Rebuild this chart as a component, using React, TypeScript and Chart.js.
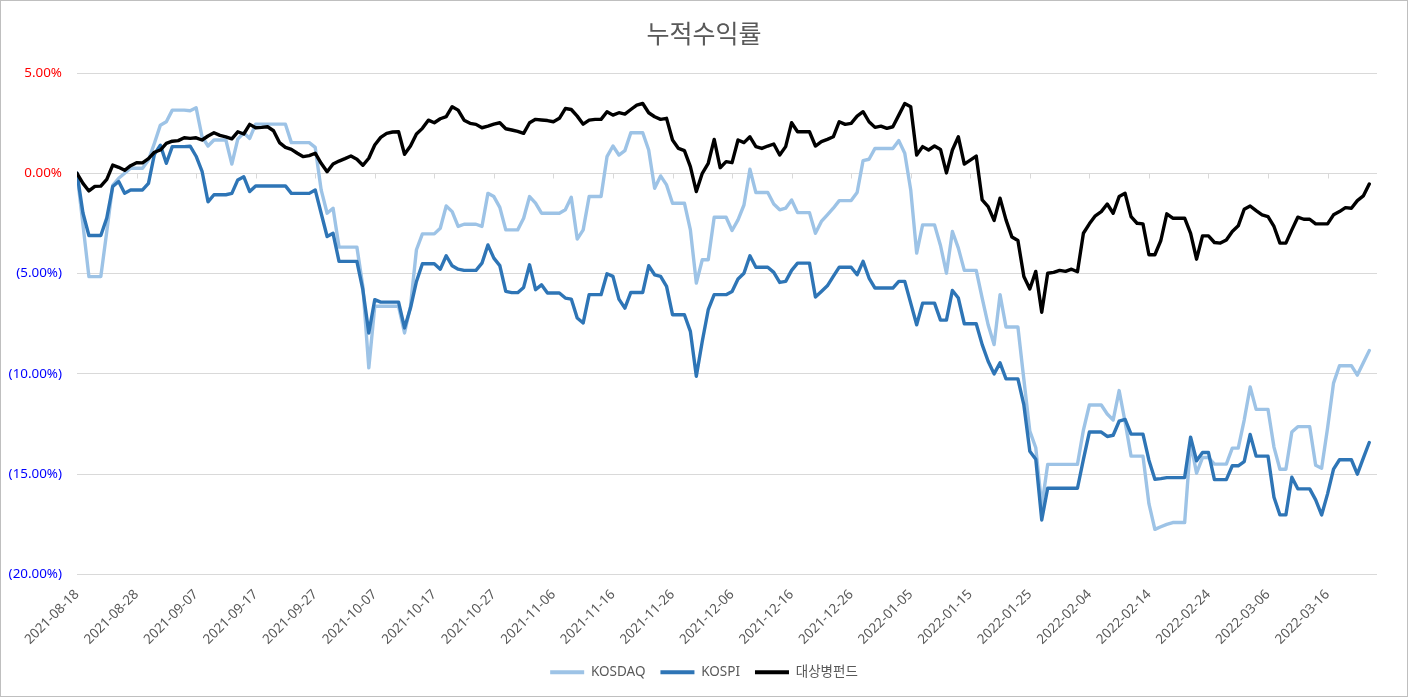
import React, { useEffect, useRef } from 'react';
import { Chart, registerables } from 'chart.js';

Chart.register(...registerables);

const DATES = [
  '2021-08-18','2021-08-19','2021-08-20','2021-08-21','2021-08-22','2021-08-23','2021-08-24','2021-08-25','2021-08-26','2021-08-27',
  '2021-08-28','2021-08-29','2021-08-30','2021-08-31',
  '2021-09-01','2021-09-02','2021-09-03','2021-09-04','2021-09-05','2021-09-06','2021-09-07','2021-09-08','2021-09-09','2021-09-10',
  '2021-09-11','2021-09-12','2021-09-13','2021-09-14','2021-09-15','2021-09-16','2021-09-17','2021-09-18','2021-09-19','2021-09-20',
  '2021-09-21','2021-09-22','2021-09-23','2021-09-24','2021-09-25','2021-09-26','2021-09-27','2021-09-28','2021-09-29','2021-09-30',
  '2021-10-01','2021-10-02','2021-10-03','2021-10-04','2021-10-05','2021-10-06','2021-10-07','2021-10-08','2021-10-09','2021-10-10',
  '2021-10-11','2021-10-12','2021-10-13','2021-10-14','2021-10-15','2021-10-16','2021-10-17','2021-10-18','2021-10-19','2021-10-20',
  '2021-10-21','2021-10-22','2021-10-23','2021-10-24','2021-10-25','2021-10-26','2021-10-27','2021-10-28','2021-10-29','2021-10-30',
  '2021-10-31',
  '2021-11-01','2021-11-02','2021-11-03','2021-11-04','2021-11-05','2021-11-06','2021-11-07','2021-11-08','2021-11-09','2021-11-10',
  '2021-11-11','2021-11-12','2021-11-13','2021-11-14','2021-11-15','2021-11-16','2021-11-17','2021-11-18','2021-11-19','2021-11-20',
  '2021-11-21','2021-11-22','2021-11-23','2021-11-24','2021-11-25','2021-11-26','2021-11-27','2021-11-28','2021-11-29','2021-11-30',
  '2021-12-01','2021-12-02','2021-12-03','2021-12-04','2021-12-05','2021-12-06','2021-12-07','2021-12-08','2021-12-09','2021-12-10',
  '2021-12-11','2021-12-12','2021-12-13','2021-12-14','2021-12-15','2021-12-16','2021-12-17','2021-12-18','2021-12-19','2021-12-20',
  '2021-12-21','2021-12-22','2021-12-23','2021-12-24','2021-12-25','2021-12-26','2021-12-27','2021-12-28','2021-12-29','2021-12-30',
  '2021-12-31',
  '2022-01-01','2022-01-02','2022-01-03','2022-01-04','2022-01-05','2022-01-06','2022-01-07','2022-01-08','2022-01-09','2022-01-10',
  '2022-01-11','2022-01-12','2022-01-13','2022-01-14','2022-01-15','2022-01-16','2022-01-17','2022-01-18','2022-01-19','2022-01-20',
  '2022-01-21','2022-01-22','2022-01-23','2022-01-24','2022-01-25','2022-01-26','2022-01-27','2022-01-28','2022-01-29','2022-01-30',
  '2022-01-31',
  '2022-02-01','2022-02-02','2022-02-03','2022-02-04','2022-02-05','2022-02-06','2022-02-07','2022-02-08','2022-02-09','2022-02-10',
  '2022-02-11','2022-02-12','2022-02-13','2022-02-14','2022-02-15','2022-02-16','2022-02-17','2022-02-18','2022-02-19','2022-02-20',
  '2022-02-21','2022-02-22','2022-02-23','2022-02-24','2022-02-25','2022-02-26','2022-02-27','2022-02-28',
  '2022-03-01','2022-03-02','2022-03-03','2022-03-04','2022-03-05','2022-03-06','2022-03-07','2022-03-08','2022-03-09','2022-03-10',
  '2022-03-11','2022-03-12','2022-03-13','2022-03-14','2022-03-15','2022-03-16','2022-03-17','2022-03-18','2022-03-19','2022-03-20',
  '2022-03-21','2022-03-22','2022-03-23',
];

// cumulative return, %
const KOSDAQ = [
  0, -2.56, -5.15, -5.15, -5.15, -2.9, -0.6, -0.25, 0.0, 0.25,
  0.25, 0.25, 0.66, 1.5, 2.4, 2.57, 3.15, 3.15, 3.15, 3.12,
  3.27, 1.82, 1.36, 1.66, 1.66, 1.66, 0.46, 1.7, 2.02, 1.74,
  2.45, 2.45, 2.45, 2.45, 2.45, 2.45, 1.53, 1.53, 1.53, 1.53,
  1.29, -0.83, -1.99, -1.74, -3.68, -3.68, -3.68, -3.68, -5.64, -9.7,
  -6.63, -6.63, -6.63, -6.63, -6.63, -7.96, -6.63, -3.81, -3.02, -3.02,
  -3.02, -2.74, -1.63, -1.91, -2.65, -2.54, -2.54, -2.54, -2.65, -1.0,
  -1.16, -1.7, -2.82, -2.82, -2.82, -2.24, -1.16, -1.49, -1.99, -1.99,
  -1.99, -1.99, -1.82, -1.19, -3.28, -2.82, -1.16, -1.16, -1.16, 0.83,
  1.36, 0.91, 1.13, 2.02, 2.02, 2.02, 1.16, -0.75, -0.13, -0.58,
  -1.49, -1.49, -1.49, -2.82, -5.47, -4.31, -4.31, -2.19, -2.19, -2.19,
  -2.85, -2.32, -1.58, 0.2, -0.96, -0.96, -0.96, -1.53, -1.82, -1.74,
  -1.33, -1.96, -1.96, -1.96, -2.99, -2.4, -2.07, -1.74, -1.36, -1.36,
  -1.36, -0.96, 0.63, 0.7, 1.24, 1.24, 1.24, 1.24, 1.63, 1.0,
  -0.83, -3.98, -2.57, -2.57, -2.57, -3.6, -4.98, -2.9, -3.73, -4.84,
  -4.84, -4.84, -6.22, -7.55, -8.54, -6.05, -7.66, -7.66, -7.66, -10.28,
  -12.85, -13.68, -16.6, -14.51, -14.51, -14.51, -14.51, -14.51, -14.51, -12.8,
  -11.55, -11.55, -11.55, -12.0, -12.3, -10.83, -12.4, -14.1, -14.1, -14.1,
  -16.47, -17.75, -17.62, -17.5, -17.41, -17.41, -17.41, -13.43, -14.95, -14.17,
  -14.17, -14.5, -14.5, -14.5, -13.7, -13.7, -12.3, -10.65, -11.77, -11.77,
  -11.77, -13.65, -14.75, -14.75, -12.9, -12.63, -12.63, -12.63, -14.55, -14.7,
  -12.7, -10.46, -9.59, -9.59, -9.59, -10.06, -9.45, -8.84,
];

const KOSPI = [
  0, -1.98, -3.1, -3.1, -3.1, -2.23, -0.66, -0.41, -0.99, -0.83,
  -0.83, -0.83, -0.5, 0.95, 1.4, 0.5, 1.33, 1.33, 1.33, 1.35,
  0.85, 0.1, -1.42, -1.07, -1.07, -1.07, -1.0, -0.33, -0.17, -0.91,
  -0.63, -0.63, -0.63, -0.63, -0.63, -0.63, -1.0, -1.0, -1.0, -1.0,
  -0.83, -1.99, -3.15, -2.99, -4.39, -4.39, -4.39, -4.39, -5.8, -7.96,
  -6.3, -6.42, -6.42, -6.42, -6.42, -7.71, -6.72, -5.39, -4.51, -4.51,
  -4.51, -4.78, -4.11, -4.61, -4.78, -4.84, -4.84, -4.84, -4.48, -3.57,
  -4.23, -4.6, -5.89, -5.95, -5.95, -5.69, -4.56, -5.8, -5.56, -5.97,
  -5.97, -5.97, -6.22, -6.27, -7.21, -7.46, -6.05, -6.05, -6.05, -5.01,
  -5.14, -6.27, -6.72, -5.94, -5.94, -5.94, -4.61, -5.06, -5.14, -5.64,
  -7.05, -7.05, -7.05, -7.88, -10.12, -8.37, -6.8, -6.05, -6.05, -6.05,
  -5.89, -5.27, -4.98, -4.11, -4.68, -4.68, -4.68, -4.94, -5.44, -5.39,
  -4.84, -4.48, -4.48, -4.48, -6.17, -5.89, -5.61, -5.14, -4.68, -4.68,
  -4.68, -5.06, -4.39, -5.22, -5.72, -5.72, -5.72, -5.72, -5.39, -5.39,
  -6.47, -7.55, -6.47, -6.47, -6.47, -7.32, -7.32, -5.84, -6.22, -7.5,
  -7.5, -7.5, -8.54, -9.37, -10.0, -9.45, -10.25, -10.25, -10.25, -11.55,
  -13.86, -14.25, -17.28, -15.7, -15.7, -15.7, -15.7, -15.7, -15.7, -14.26,
  -12.9, -12.9, -12.9, -13.12, -13.06, -12.36, -12.27, -13.0, -13.0, -13.0,
  -14.3, -15.25, -15.22, -15.17, -15.17, -15.17, -15.17, -13.15, -14.33, -13.92,
  -13.92, -15.27, -15.27, -15.27, -14.58, -14.58, -14.37, -13.02, -14.1, -14.1,
  -14.1, -16.15, -17.03, -17.03, -15.15, -15.73, -15.73, -15.73, -16.28, -17.03,
  -15.98, -14.75, -14.28, -14.28, -14.28, -15.0, -14.2, -13.42,
];

const FUND = [
  0, -0.5, -0.88, -0.65, -0.64, -0.3, 0.41, 0.3, 0.15, 0.38,
  0.53, 0.52, 0.73, 1.05, 1.16, 1.49, 1.6, 1.63, 1.77, 1.74,
  1.77, 1.66, 1.86, 2.02, 1.89, 1.82, 1.72, 2.07, 1.96, 2.44,
  2.27, 2.29, 2.32, 2.12, 1.53, 1.29, 1.19, 1.0, 0.83, 0.88,
  1.0, 0.5, 0.08, 0.46, 0.61, 0.73, 0.86, 0.7, 0.4, 0.75,
  1.41, 1.79, 1.99, 2.06, 2.07, 0.95, 1.36, 1.96, 2.24, 2.65,
  2.52, 2.72, 2.82, 3.32, 3.15, 2.65, 2.49, 2.44, 2.27, 2.35,
  2.45, 2.52, 2.22, 2.16, 2.09, 1.99, 2.52, 2.69, 2.66, 2.63,
  2.57, 2.74, 3.23, 3.18, 2.85, 2.45, 2.65, 2.69, 2.69, 3.07,
  2.9, 3.02, 2.95, 3.18, 3.4, 3.48, 3.02, 2.82, 2.69, 2.74,
  1.66, 1.24, 1.13, 0.33, -0.91, 0.0, 0.5, 1.69, 0.28, 0.58,
  0.53, 1.66, 1.53, 1.82, 1.33, 1.24, 1.36, 1.46, 0.91, 1.33,
  2.52, 2.07, 2.07, 2.07, 1.36, 1.58, 1.69, 1.82, 2.57, 2.44,
  2.49, 2.85, 3.07, 2.57, 2.29, 2.35, 2.24, 2.32, 2.9, 3.48,
  3.32, 0.91, 1.33, 1.16, 1.36, 1.19, 0.02, 1.16, 1.82, 0.46,
  0.66, 0.86, -1.33, -1.66, -2.35, -1.24, -2.32, -3.18, -3.35, -5.14,
  -5.77, -4.89, -6.93, -4.98, -4.94, -4.84, -4.89, -4.78, -4.91, -2.99,
  -2.52, -2.12, -1.91, -1.53, -1.99, -1.16, -1.0, -2.16, -2.49, -2.52,
  -4.06, -4.06, -3.35, -2.02, -2.24, -2.24, -2.24, -2.99, -4.28, -3.12,
  -3.12, -3.45, -3.48, -3.32, -2.9, -2.62, -1.79, -1.63, -1.86, -2.07,
  -2.16, -2.65, -3.48, -3.48, -2.82, -2.19, -2.29, -2.29, -2.52, -2.52,
  -2.52, -2.07, -1.91, -1.71, -1.74, -1.36, -1.13, -0.53,
];

const SERIES_NAMES = ['KOSDAQ', 'KOSPI', '대상병펀드'];
const SERIES_COLORS = ['#9DC3E6', '#2E75B6', '#000000'];
const TITLE = '누적수익률';
const Y_MIN = -20;
const Y_MAX = 5;
const Y_STEP = 5;
const X_LABEL_EVERY = 10;

const LATIN = "'Noto Sans', 'Noto Sans CJK KR', sans-serif";
const KOREAN = "'Noto Sans CJK KR', 'Noto Sans', sans-serif";

function fmtPct(v: number): string {
  return v >= 0 ? v.toFixed(2) + '%' : '(' + Math.abs(v).toFixed(2) + '%)';
}

export default function App() {
  const ref = useRef<HTMLCanvasElement | null>(null);

  useEffect(() => {
    document.body.style.margin = '0';
    const canvas = ref.current;
    if (!canvas) return;

    const zeroTicks = {
      id: 'zeroTicks',
      beforeDatasetsDraw(chart: any) {
        const { ctx, scales } = chart;
        const x = scales.x;
        const y = scales.y;
        const y0 = Math.round(y.getPixelForValue(0)) + 0.5;
        ctx.save();
        ctx.strokeStyle = '#D9D9D9';
        ctx.lineWidth = 1;
        for (let i = 0; i < DATES.length; i += X_LABEL_EVERY) {
          const px = Math.round(x.getPixelForValue(i)) + 0.5;
          ctx.beginPath();
          ctx.moveTo(px, y0);
          ctx.lineTo(px, y0 + 5);
          ctx.stroke();
        }
        ctx.restore();
      },
    };

    const frame = {
      id: 'frame',
      afterDraw(chart: any) {
        const { ctx, width, height } = chart;
        ctx.save();
        ctx.strokeStyle = '#BFBFBF';
        ctx.lineWidth = 1;
        ctx.strokeRect(0.5, 0.5, width - 1, height - 1);
        ctx.restore();
      },
    };

    const series = [KOSDAQ, KOSPI, FUND];
    const chart = new Chart(canvas, {
      type: 'line',
      data: {
        datasets: series.map((arr, k) => ({
          label: SERIES_NAMES[k],
          data: arr.map((v, i) => ({ x: i, y: v })),
          borderColor: SERIES_COLORS[k],
          backgroundColor: SERIES_COLORS[k],
          borderWidth: 3.4,
          pointRadius: 0,
          pointHoverRadius: 0,
          tension: 0,
          borderJoinStyle: 'round',
          borderCapStyle: 'round',
          order: 3 - k,
        })),
      },
      options: {
        responsive: false,
        animation: false,
        events: [],
        layout: { padding: { left: 0, right: 0, top: 0, bottom: 8 } },
        scales: {
          x: {
            type: 'linear',
            min: 0,
            max: 218.3,
            grid: { display: false, drawTicks: false },
            border: { display: false },
            afterFit: (s: any) => { s.height = 76; },
            ticks: {
              stepSize: X_LABEL_EVERY,
              autoSkip: false,
              includeBounds: false,
              minRotation: 45,
              maxRotation: 45,
              padding: 12,
              color: '#595959',
              font: { family: LATIN, size: 13.5 },
              callback: (v: any) => (Number.isInteger(v) && DATES[v] ? DATES[v] : ''),
            },
          },
          y: {
            min: Y_MIN,
            max: Y_MAX,
            grid: { color: '#D9D9D9', lineWidth: 1, drawTicks: false },
            border: { display: false },
            afterFit: (s: any) => { s.width = 77; },
            ticks: {
              stepSize: Y_STEP,
              padding: 15,
              font: { family: LATIN, size: 13.4 },
              color: (c: any) => (c.tick && c.tick.value < 0 ? '#0000FF' : '#FF0000'),
              callback: (v: any) => fmtPct(Number(v)),
            },
          },
          yRight: {
            type: 'linear',
            position: 'right',
            display: true,
            grid: { display: false, drawTicks: false },
            border: { display: false },
            ticks: { display: false },
            afterFit: (s: any) => { s.width = 31; },
          },
        },
        plugins: {
          title: {
            display: true,
            text: TITLE,
            color: '#595959',
            font: { family: KOREAN, size: 25, weight: 'normal' },
            padding: { top: 18, bottom: 25 },
          },
          legend: {
            position: 'bottom',
            labels: {
              color: '#595959',
              font: { family: LATIN, size: 13.5 },
              boxWidth: 34,
              boxHeight: 4,
              padding: 15,
              sort: (a: any, b: any) => a.datasetIndex - b.datasetIndex,
              generateLabels: (c: any) => {
                const items = (Chart.defaults as any).plugins.legend.labels.generateLabels(c);
                items.forEach((it: any) => { it.lineWidth = 0; it.fillStyle = it.strokeStyle; });
                return items;
              },
            },
          },
          tooltip: { enabled: false },
        },
      } as any,
      plugins: [zeroTicks, frame],
    });

    return () => chart.destroy();
  }, []);

  return (
    <div style={{ width: 1408, height: 697, background: '#FFFFFF' }}>
      <canvas ref={ref} width={1408} height={697} style={{ display: 'block', width: 1408, height: 697 }} />
    </div>
  );
}
